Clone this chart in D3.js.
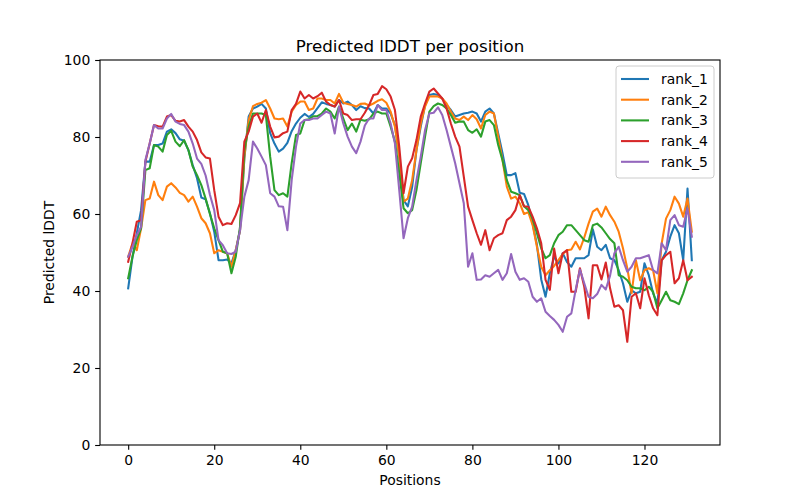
<!DOCTYPE html>
<html>
<head>
<meta charset="utf-8">
<script src="https://cdn.jsdelivr.net/npm/d3@7"></script>
<style>
  html, body { margin: 0; padding: 0; background: #fff; }
  svg text { font-family: "DejaVu Sans", sans-serif; fill: #000; }
</style>
</head>
<body>
<svg id="chart" width="800" height="500"></svg>
<script>
const seriesNames = ["rank_1", "rank_2", "rank_3", "rank_4", "rank_5"];
const seriesColors = ["#1f77b4", "#ff7f0e", "#2ca02c", "#d62728", "#9467bd"];
const xTicks = [0, 20, 40, 60, 80, 100, 120];
const yTicks = [0, 20, 40, 60, 80, 100];

const rank_1 = [40.7,48.9,55,61,73.6,73.6,77.9,77.9,78.3,81.4,82,81,79.4,79,76.6,72.7,69.3,64.3,63.8,60.2,
55.4,48,48,48.2,47.2,50.6,55.8,74.4,85.3,87.4,87.9,88.6,87.4,81,78.3,76.2,77,78.5,81.5,83.5,
85,86,85.2,86,87.5,89,88.6,88.3,87.9,89.6,88.7,89.2,88.3,87,88,87.5,87.4,86.1,88.3,87.4,
87.4,86.1,83.1,74.9,63.6,62,67,76.6,82.7,88.3,90.9,91.2,90.9,90,88.3,87,85.3,85.7,86.1,86.3,
86.6,86.1,84,86.6,87.4,86.1,80.9,75.8,70.1,70.1,70.6,65.5,65.2,62.3,57.5,52,43,38.5,44.6,48.9,
47.2,49.8,47.5,46.3,48.5,48.5,48.5,49.3,56,51.5,50.6,52,48.5,48,45.4,42,37.2,40.2,39.4,39.8,
47.2,44.1,39.4,36.8,48,50.2,54.1,57.1,55,48,66.6,48];

const rank_2 = [48.9,52.4,50.6,56.3,63.6,64,68.4,64.9,63.6,67.1,68,66.9,65.5,64.9,63.2,64.5,61.9,58.9,57.6,55,
49.8,50.6,50.2,49.8,46.3,50.6,55.8,74.9,84.4,88,88.6,88.9,89.6,87.4,84.8,84.6,84.8,82.7,86.6,88.3,
89.2,89.2,87,87.4,90,90,89.6,89.6,88.7,91.2,88.9,88.6,88.3,87.9,88.6,88.7,88.2,88.7,89.4,89.8,
88.9,86.6,82.7,74.9,63.2,64,68.8,76.6,83.5,87.9,90.5,90.6,90.5,90,88.7,86.6,84.8,84.4,85.3,84.4,
85.7,84.6,82.2,85.7,86.6,86.1,80.1,74,67.1,64,64.5,62.8,60,60.5,57.1,51.5,46.3,44.1,45.4,46.5,
48,49.6,50.6,50.8,52.8,50.8,53.9,57.5,60.6,61.4,59.3,61.9,59.7,58,55.4,51.1,45.9,39.4,48,42.8,
45.4,45.9,45.4,39.4,52.4,58.8,61,64.5,62.7,59.3,64,55.4];

const rank_3 = [43.3,48.9,53.2,56.3,71.4,71.9,77.9,77.5,76.2,80.5,81.6,78.8,77.6,79.2,76.6,72.3,70.1,67.5,64,60,
56.3,53.2,50.2,49.8,44.6,48.9,56.7,76.6,82.7,86.1,86.1,86.1,85.7,74.9,66.2,64.9,65.4,64.5,73.2,80.5,
80.9,84.4,84.6,85.4,85.4,86.1,87.4,86.6,84.8,87.9,84.8,81.8,83.5,81.4,84.5,84.2,84.6,86.1,86.6,86.1,
86.1,82.7,78.8,70.6,61.5,60.2,61,66.2,73.2,80.1,86.6,88,88.7,88.3,87.4,85.7,83.7,84,84,81.8,
81.1,82,80.1,84,84.4,83.1,77.9,74,68.8,65.8,65.4,64.9,62,61,58.8,55,51.1,48.5,49.3,52.4,
54.5,55.4,57.1,57.1,55.8,54.5,53.2,52.8,57.1,57.5,56.5,55,53.5,52.4,44.1,43.7,42.8,41.1,40.7,40.7,
40.2,41.1,39.8,35.5,37.6,39.8,37.6,37.2,36.6,39.4,42.8,45.4];

const rank_4 = [47.6,52.4,58,58.4,73.6,78.3,83.1,82.8,82.7,85.3,85.7,84.2,84,84.4,82.7,81.4,79.2,76,74.7,74.4,
66.2,59.3,57.1,57.6,57.4,59.7,62.8,78.8,81.4,85.3,86.1,83.7,87,82.7,79.9,80.1,81,81.4,87,88.6,
91.8,90,90.9,90,90.6,91.5,89.2,88.3,87.9,89.6,86.1,85.7,84.4,84.6,84.6,86.3,88.3,90.9,91.2,93.2,
92.4,90.5,87,77.5,65.4,72.3,74.5,79.2,85.3,88.7,91.8,92.6,91.3,90,87.4,83.5,80.1,77.5,69.7,61.9,
58.4,55,52,55.8,50.6,53.7,54.5,55,58.4,59.3,61,64.9,62,61.9,59.3,56.3,52.4,42.9,40.3,51,
44.6,49.8,50.6,39.8,39.8,45.9,41.1,32.9,46.7,46.7,43,47.4,40.7,35.9,36.3,35,26.8,38.5,39.4,35.5,
43.3,38.9,35.5,33.7,48,49.3,50.2,42,43.3,48,42.8,43.7];

const rank_5 = [48.9,51.5,54.5,56.7,74,78.3,83.1,82.2,82.2,84.8,86,84,83.4,83.1,81.4,78.3,74.4,73,70,65,
61,53.2,51.9,49.8,49.6,50.2,55.8,64.5,68.8,78.8,77,74.9,72.7,65.4,64.5,62,61.9,55.8,68.8,77.5,
83.5,84.4,84.4,84.8,84.8,85.7,86.6,86.1,80.9,87.9,83.5,80.1,77.5,75.8,78.8,83,84.8,84.8,88.3,87,
87,83.5,78.3,66.2,53.7,58.9,61.9,68.8,74.9,81.8,86.1,86.3,87.7,85.7,81.8,77.5,73.2,68,62.8,46.3,
49.8,42.9,43,44.1,43.7,44.6,45.5,42.9,44.6,49.6,45,42.9,43.3,42.4,38.5,37.2,38.1,34.6,33.5,32.5,
31.2,29.4,33.3,34.2,40.3,45.6,42,38.5,38.1,39.2,41.6,40.4,44,49.8,51.5,48,45,46.3,48.5,48.5,
48.9,49.3,45.4,44.6,52.4,50.6,58.4,59.7,57.1,56.7,61.4,54.1];

const seriesValues = [rank_1, rank_2, rank_3, rank_4, rank_5];

const svg = d3.select("#chart");
const margin = {left: 100, right: 80, top: 60, bottom: 55};
const W = 800, H = 500;
const pw = W - margin.left - margin.right;
const ph = H - margin.top - margin.bottom;

const n = rank_1.length;
const pad = (n - 1) * 0.05;
const x = d3.scaleLinear().domain([-pad, (n - 1) + pad]).range([margin.left, margin.left + pw]);
const y = d3.scaleLinear().domain([0, 100]).range([margin.top + ph, margin.top]);

const g = svg.append("g");

// lines
const line = d3.line().x((d, i) => x(i)).y(d => y(d));
svg.append("defs").append("clipPath").attr("id", "clip")
  .append("rect").attr("x", margin.left).attr("y", margin.top).attr("width", pw).attr("height", ph);
const lines = g.append("g").attr("clip-path", "url(#clip)");
seriesValues.forEach((vals, k) => {
  lines.append("path")
    .datum(vals)
    .attr("fill", "none")
    .attr("stroke", seriesColors[k])
    .attr("stroke-width", 2.08)
    .attr("stroke-linejoin", "round")
    .attr("stroke-linecap", "square")
    .attr("d", line);
});

// axes
const xAxis = d3.axisBottom(x).tickValues(xTicks).tickSize(4.86).tickPadding(4.9).tickFormat(d3.format("d"));
const yAxis = d3.axisLeft(y).tickValues(yTicks).tickSize(4.86).tickPadding(4.9).tickFormat(d3.format("d"));
const gx = g.append("g").attr("transform", `translate(0,${margin.top + ph})`).call(xAxis);
const gy = g.append("g").attr("transform", `translate(${margin.left},0)`).call(yAxis);
[gx, gy].forEach(a => {
  a.select(".domain").remove();
  a.selectAll(".tick line").attr("stroke", "#000").attr("stroke-width", 1.1);
  a.selectAll(".tick text").attr("font-size", "13.9px").attr("font-family", "DejaVu Sans, sans-serif").attr("fill", "#000");
});

// frame
g.append("rect")
  .attr("x", margin.left).attr("y", margin.top).attr("width", pw).attr("height", ph)
  .attr("fill", "none").attr("stroke", "#000").attr("stroke-width", 1.1);

// title and labels
svg.append("text").attr("x", margin.left + pw / 2).attr("y", 52)
  .attr("text-anchor", "middle").attr("font-size", "16.7px").text("Predicted lDDT per position");
svg.append("text").attr("x", margin.left + pw / 2).attr("y", 485)
  .attr("text-anchor", "middle").attr("font-size", "13.9px").text("Positions");
svg.append("text").attr("transform", `translate(54,${margin.top + ph / 2}) rotate(-90)`)
  .attr("text-anchor", "middle").attr("font-size", "13.9px").text("Predicted lDDT");

// legend
const lg = svg.append("g");
const lx = 616, ly = 66, lw = 98, lh = 112;
lg.append("rect").attr("x", lx).attr("y", ly).attr("width", lw).attr("height", lh)
  .attr("rx", 3).attr("fill", "#fff").attr("fill-opacity", 0.8)
  .attr("stroke", "#ccc").attr("stroke-width", 1);
seriesNames.forEach((name, k) => {
  const yy = ly + 13 + k * 20.7;
  lg.append("line").attr("x1", lx + 5).attr("x2", lx + 33).attr("y1", yy).attr("y2", yy)
    .attr("stroke", seriesColors[k]).attr("stroke-width", 2.08);
  lg.append("text").attr("x", lx + 45).attr("y", yy + 5).attr("font-size", "13.9px").text(name);
});
</script>
</body>
</html>
